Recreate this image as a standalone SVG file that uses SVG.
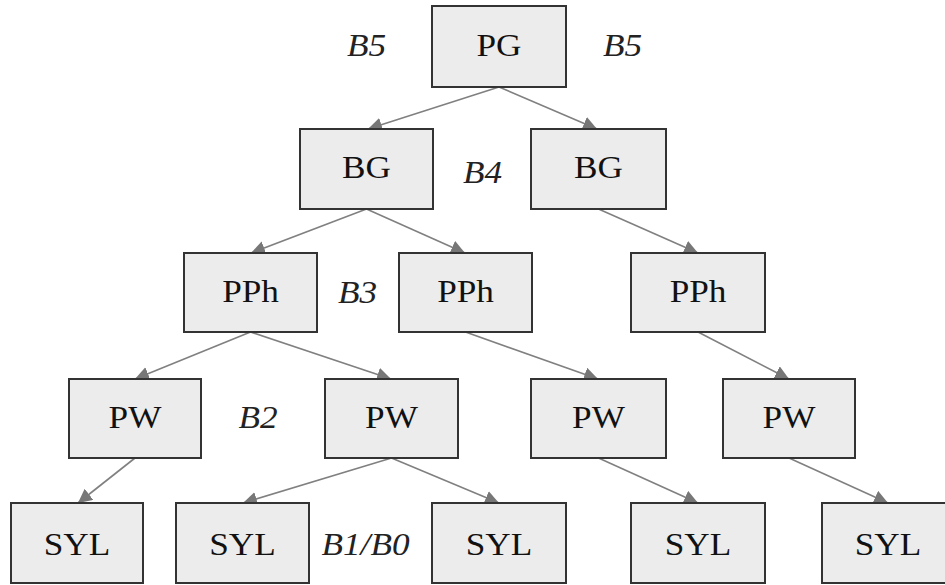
<svg xmlns="http://www.w3.org/2000/svg" width="945" height="585" viewBox="0 0 945 585">
<defs>
<style>
.box{fill:#ececec;stroke:#333;stroke-width:2}
.e{stroke:#808080;stroke-width:1.6;fill:none;marker-end:url(#ah)}
</style>
<marker id="ah" markerUnits="userSpaceOnUse" markerWidth="16" markerHeight="16" refX="14" refY="7" orient="auto">
<path d="M0,0 L14,7 L0,14 z" fill="#777"/>
</marker>
</defs>
<rect width="945" height="585" fill="#fff"/>
<g id="edges">
<line class="e" x1="499" y1="87" x2="368" y2="129"/>
<line class="e" x1="499" y1="87" x2="597" y2="129"/>
<line class="e" x1="366.5" y1="209" x2="251" y2="253"/>
<line class="e" x1="366.5" y1="209" x2="465" y2="253"/>
<line class="e" x1="598.5" y1="209" x2="698" y2="253"/>
<line class="e" x1="250.5" y1="332" x2="135" y2="379"/>
<line class="e" x1="250.5" y1="332" x2="391" y2="379"/>
<line class="e" x1="465.5" y1="332" x2="598" y2="379"/>
<line class="e" x1="698" y1="332" x2="789" y2="379"/>
<line class="e" x1="135" y1="458" x2="78" y2="503"/>
<line class="e" x1="391.5" y1="458" x2="243" y2="503"/>
<line class="e" x1="391.5" y1="458" x2="499" y2="503"/>
<line class="e" x1="598.5" y1="458" x2="698" y2="503"/>
<line class="e" x1="789" y1="458" x2="888" y2="503"/>
</g>
<g font-family="'Liberation Serif', serif" font-size="32" fill="#111" text-anchor="middle">
<g id="pg"><rect class="box" x="432" y="6" width="134" height="81"/><text transform="translate(499,56) scale(1.1,1)">PG</text></g>
<g id="bg1"><rect class="box" x="300" y="129" width="133" height="80"/><text transform="translate(366.5,178) scale(1.1,1)">BG</text></g>
<g id="bg2"><rect class="box" x="531" y="129" width="135" height="80"/><text transform="translate(598.5,178) scale(1.1,1)">BG</text></g>
<g id="pph1"><rect class="box" x="184" y="253" width="133" height="79"/><text transform="translate(250.5,302) scale(1.1,1)">PPh</text></g>
<g id="pph2"><rect class="box" x="399" y="253" width="133" height="79"/><text transform="translate(465.5,302) scale(1.1,1)">PPh</text></g>
<g id="pph3"><rect class="box" x="631" y="253" width="134" height="79"/><text transform="translate(698,302) scale(1.1,1)">PPh</text></g>
<g id="pw1"><rect class="box" x="69" y="379" width="132" height="79"/><text transform="translate(135,428) scale(1.1,1)">PW</text></g>
<g id="pw2"><rect class="box" x="325" y="379" width="133" height="79"/><text transform="translate(391.5,428) scale(1.1,1)">PW</text></g>
<g id="pw3"><rect class="box" x="531" y="379" width="135" height="79"/><text transform="translate(598.5,428) scale(1.1,1)">PW</text></g>
<g id="pw4"><rect class="box" x="723" y="379" width="132" height="79"/><text transform="translate(789,428) scale(1.1,1)">PW</text></g>
<g id="syl1"><rect class="box" x="11" y="503" width="132" height="80"/><text transform="translate(77,555) scale(1.1,1)">SYL</text></g>
<g id="syl2"><rect class="box" x="176" y="503" width="133" height="80"/><text transform="translate(242.5,555) scale(1.1,1)">SYL</text></g>
<g id="syl3"><rect class="box" x="432" y="503" width="134" height="80"/><text transform="translate(499,555) scale(1.1,1)">SYL</text></g>
<g id="syl4"><rect class="box" x="631" y="503" width="134" height="80"/><text transform="translate(698,555) scale(1.1,1)">SYL</text></g>
<g id="syl5"><rect class="box" x="822" y="503" width="134" height="80"/><text transform="translate(888,555) scale(1.1,1)">SYL</text></g>
<g id="labels" font-style="italic" fill="#222">
<text transform="translate(366.5,56) scale(1.1,1)">B5</text>
<text transform="translate(622.5,56) scale(1.1,1)">B5</text>
<text transform="translate(482.5,183) scale(1.1,1)">B4</text>
<text transform="translate(357.5,303) scale(1.1,1)">B3</text>
<text transform="translate(258,428) scale(1.1,1)">B2</text>
<text transform="translate(365.5,555) scale(1.1,1)">B1/B0</text>
</g>
</g>
</svg>
